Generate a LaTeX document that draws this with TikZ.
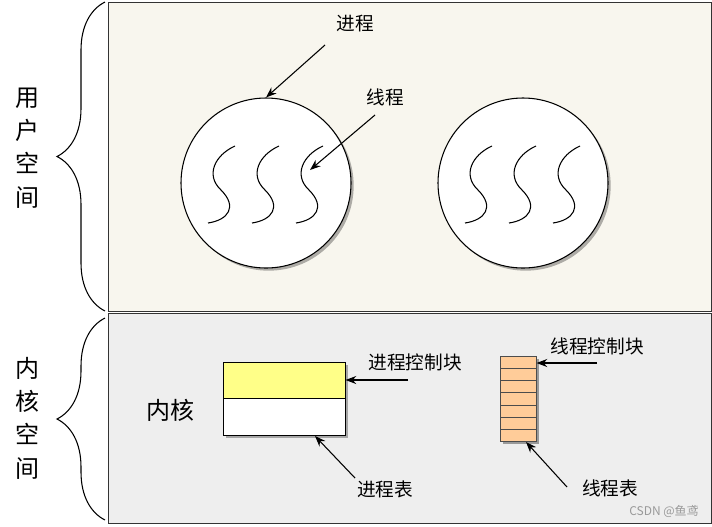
\documentclass[tikz,border=0pt]{standalone}
\usepackage{fontspec}
\setmainfont{Noto Sans CJK SC}
\usetikzlibrary{decorations.pathreplacing,shadows,arrows.meta}
\definecolor{beige}{HTML}{F8F6EE}
\definecolor{kgray}{HTML}{EEEEEE}
\definecolor{yel}{HTML}{FFFF88}
\definecolor{org}{HTML}{FFCC99}
\begin{document}
\begin{tikzpicture}[x=0.75pt,y=-0.75pt,
  lbl/.style={font=\fontsize{14}{16}\selectfont},
  big/.style={font=\fontsize{18}{20}\selectfont, align=center},
  arr/.style={-{Stealth[length=8pt,width=6pt]}, thick},
  thr/.style={thick},
  shad/.style={drop shadow={shadow xshift=2pt,shadow yshift=-2pt,opacity=0.3,fill=black}}]
\useasboundingbox (0,0) rectangle (712,526);
\draw[fill=beige, draw=black!80] (108,2) rectangle (711,311);
\draw[fill=kgray, draw=black!80] (108,313) rectangle (711,523);
\draw[thick, decorate, decoration={brace, amplitude=36pt, aspect=0.5}] (105,311) -- (105,2);
\draw[thick, decorate, decoration={brace, amplitude=36pt}] (105,520) -- (105,318);
\node[big, font=\fontsize{18}{25}\selectfont] (us) at (27,148) {用\\户\\空\\间};
\node[big, font=\fontsize{18}{25}\selectfont] (ks) at (27,418) {内\\核\\空\\间};
% circles
\node[circle, draw, fill=white, minimum size=170*0.75pt, thick, shad] (p1) at (266,183) {};
\node[circle, draw, fill=white, minimum size=170*0.75pt, thick, shad] (p2) at (523,183) {};
\foreach \cx in {0,44,88,257,301,345}{
  \draw[thr] (235+\cx,146) .. controls (215+\cx,155) and (205+\cx,175) .. (221+\cx,190)
     .. controls (238+\cx,207) and (228+\cx,220) .. (208+\cx,223);
}
\node[lbl] (lp) at (355,24) {进程};
\coordinate (lpa) at (325,45);
\draw[arr] (lpa) -- (p1.north);
\node[lbl] (lt) at (385,97) {线程};
\coordinate (lta) at (375,115);
\coordinate (ltb) at (310,170);
\draw[arr] (lta) -- (ltb);
% process table
\node[draw, fill=yel, minimum width=122*0.75pt, minimum height=36*0.75pt, inner sep=0, anchor=north west, shad] (pcb) at (223,362) {};
\node[draw, fill=white, minimum width=122*0.75pt, minimum height=37*0.75pt, inner sep=0, anchor=north west, shad] (pt) at (223,398) {};
\node[big] (kn) at (170,410) {内核};
\node[lbl] (lpcb) at (415,362) {进程控制块};
\coordinate (a1) at (408,380);
\draw[arr] (a1) -- (pcb.east |- a1);
\node[lbl] (lpt) at (385,489) {进程表};
\coordinate (a2) at (355,478);
\coordinate (a2b) at (315,436);
\draw[arr] (a2) -- (a2b);
% thread table
\fill[black!40] (503,359) rectangle (539,444);
\foreach \i in {0,...,6}{
  \node[draw=black!70, fill=org, minimum width=36*0.75pt, minimum height=12.14*0.75pt, inner sep=0, anchor=north west] (t\i) at (500,356+\i*12.14) {};
}
\node[lbl] (ltcb) at (597,346) {线程控制块};
\coordinate (a3) at (597,363);
\draw[arr] (a3) -- (t0.east |- a3);
\node[lbl] (ltt) at (610,488) {线程表};
\coordinate (a4) at (567,487);
\coordinate (a4b) at (526,442);
\draw[arr] (a4) -- (a4b);
\node[text=black!40, font=\fontsize{9}{10}\selectfont] (wm) at (664,511) {CSDN @鱼鸢};
\end{tikzpicture}
\end{document}
